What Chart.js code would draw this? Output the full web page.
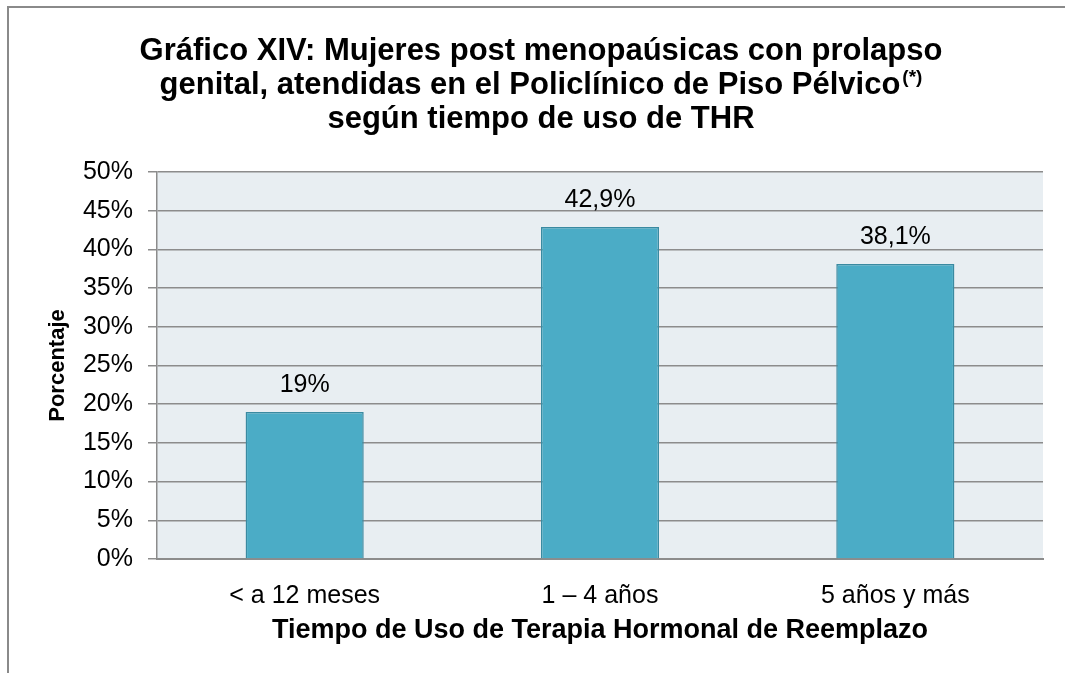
<!DOCTYPE html>
<html>
<head>
<meta charset="utf-8">
<script src="https://cdn.jsdelivr.net/npm/chart.js@4.4.0/dist/chart.umd.min.js"></script>
<style>
    html, body { margin: 0; padding: 0; background: #fff; }
    #wrap { width: 1065px; height: 673px; position: relative; }
</style>
</head>
<body>
<div id="wrap"><canvas id="chart" width="1065" height="673"></canvas></div>
<script>
const categories = ['< a 12 meses', '1 – 4 años', '5 años y más'];
const percentages = [19, 42.9, 38.1];
const valueLabels = ['19%', '42,9%', '38,1%'];
const titleLines = [
    'Gráfico XIV: Mujeres post menopaúsicas con prolapso',
    'genital, atendidas en el Policlínico de Piso Pélvico',
    'según tiempo de uso de THR'
];
const titleNote = '(*)';
const xTitle = 'Tiempo de Uso de Terapia Hormonal de Reemplazo';
const yTitle = 'Porcentaje';

const FONT = '"Liberation Sans", Arial, sans-serif';
Chart.defaults.font.family = FONT;
Chart.defaults.color = '#000';

// white page, grey frame (left + top) and the tinted plot area
const backdrop = {
    id: 'backdrop',
    beforeDraw(chart) {
        const { ctx, chartArea: a } = chart;
        ctx.save();
        ctx.fillStyle = '#fff';
        ctx.fillRect(0, 0, chart.width, chart.height);
        ctx.strokeStyle = '#8a8a8a';
        ctx.lineWidth = 2;
        ctx.beginPath();
        ctx.moveTo(8, chart.height);
        ctx.lineTo(8, 7);
        ctx.lineTo(chart.width, 7);
        ctx.stroke();
        ctx.fillStyle = '#e8eef2';
        ctx.fillRect(a.left, a.top, a.right - a.left, a.bottom - a.top);
        ctx.restore();
    }
};

// three-line title with the superscript note after line 2
const excelTitle = {
    id: 'excelTitle',
    afterDraw(chart) {
        const ctx = chart.ctx;
        const cx = 541;
        const baselines = [60, 94, 128];
        const mainFont = 'bold 31px ' + FONT;
        const supFont = 'bold 19px ' + FONT;
        ctx.save();
        ctx.fillStyle = '#000';
        ctx.textAlign = 'left';
        ctx.textBaseline = 'alphabetic';
        titleLines.forEach((line, i) => {
            ctx.font = mainFont;
            const w = ctx.measureText(line).width;
            let supW = 0;
            if (i === 1) {
                ctx.font = supFont;
                supW = ctx.measureText(titleNote).width + 2;
            }
            const x0 = cx - (w + supW) / 2;
            ctx.font = mainFont;
            ctx.fillText(line, x0, baselines[i]);
            if (i === 1) {
                ctx.font = supFont;
                ctx.fillText(titleNote, x0 + w + 2, baselines[i] - 11);
            }
        });
        ctx.restore();
    }
};

// value labels above each bar
const barValues = {
    id: 'barValues',
    afterDatasetsDraw(chart) {
        const ctx = chart.ctx;
        const meta = chart.getDatasetMeta(0);
        ctx.save();
        ctx.font = '25px ' + FONT;
        ctx.fillStyle = '#000';
        ctx.textAlign = 'center';
        ctx.textBaseline = 'alphabetic';
        meta.data.forEach((bar, i) => {
            ctx.fillText(valueLabels[i], bar.x, bar.y - 20);
        });
        ctx.restore();
    }
};

new Chart(document.getElementById('chart'), {
    type: 'bar',
    data: {
        labels: categories,
        datasets: [{
            data: percentages,
            backgroundColor: '#4bacc6',
            borderColor: '#3a8aa1',
            borderWidth: 1.5,
            categoryPercentage: 1,
            barPercentage: 0.4
        }]
    },
    options: {
        responsive: false,
        animation: false,
        layout: { padding: { top: 172, right: 22, left: 0, bottom: 0 } },
        plugins: {
            legend: { display: false },
            title: { display: false },
            tooltip: { enabled: false }
        },
        scales: {
            x: {
                grid: { display: false },
                border: { display: true, color: '#8c8c8c', width: 2 },
                ticks: { font: { size: 25 }, color: '#000', padding: 14 },
                title: {
                    display: true,
                    text: xTitle,
                    color: '#000',
                    font: { size: 27, weight: 'bold' },
                    padding: { top: 0, bottom: 26 }
                },
                afterFit: function (scale) { scale.height = 114; }
            },
            y: {
                min: 0,
                max: 50,
                grid: { color: '#8c8c8c', lineWidth: 1.5, tickLength: 9, drawTicks: true },
                border: { display: true, color: '#8c8c8c', width: 1.5 },
                ticks: {
                    stepSize: 5,
                    font: { size: 25 },
                    color: '#000',
                    padding: 15,
                    callback: function (value) { return value + '%'; }
                },
                title: {
                    display: true,
                    text: yTitle,
                    color: '#000',
                    font: { size: 22, weight: 'bold' },
                    padding: { top: 45, bottom: 0 }
                },
                afterFit: function (scale) { scale.width = 157; }
            }
        }
    },
    plugins: [backdrop, excelTitle, barValues]
});
</script>
</body>
</html>
